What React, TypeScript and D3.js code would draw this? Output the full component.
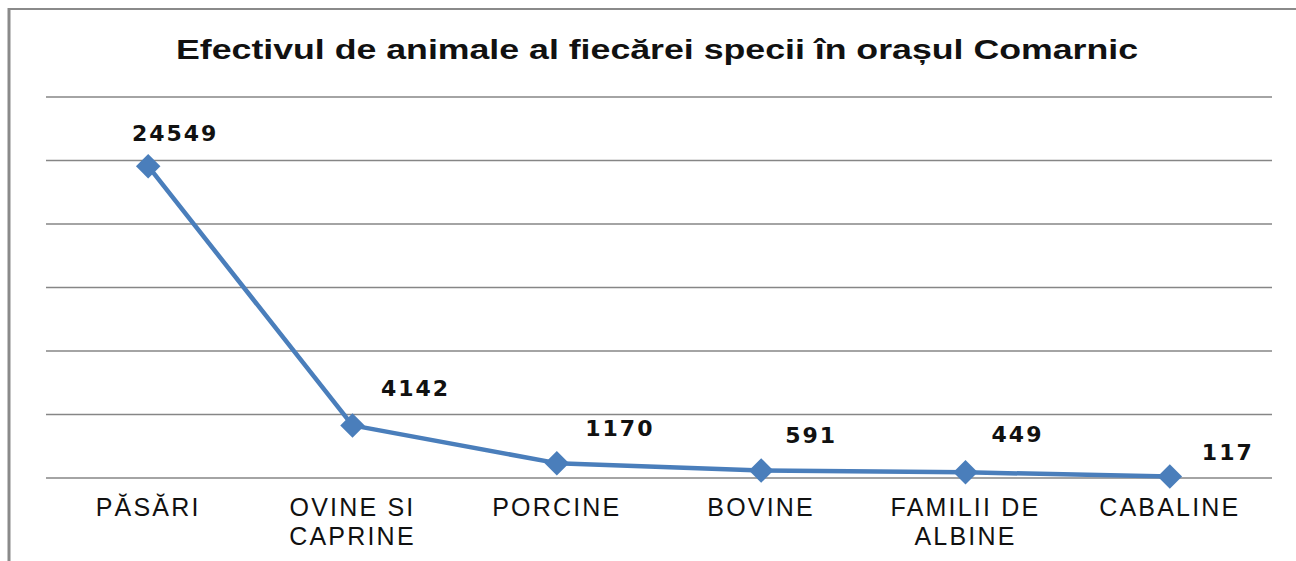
import * as d3 from "d3";

const categories: string[][] = [
  ["PĂSĂRI"],
  ["OVINE SI", "CAPRINE"],
  ["PORCINE"],
  ["BOVINE"],
  ["FAMILII DE", "ALBINE"],
  ["CABALINE"],
];
const values = [24549, 4142, 1170, 591, 449, 117];
const yTicks = [0, 5000, 10000, 15000, 20000, 25000, 30000];
const title = "Efectivul de animale al fiecărei specii în orașul Comarnic";

// label offsets from each point (layout, not data)
const labelOffsets: [number, number][] = [
  [27, -25],
  [63, -29],
  [63, -27],
  [50, -27],
  [52, -30],
  [58, -17],
];

const W = 1296;
const H = 561;
const plot = { left: 46, right: 1272, top: 97, bottom: 478 };

export default function App() {
  const keys = categories.map((c) => c.join(" "));
  const x = d3.scaleBand<string>().domain(keys).range([plot.left, plot.right]);
  const y = d3.scaleLinear().domain([0, 30000]).range([plot.bottom, plot.top]);
  const cx = (i: number) => x(keys[i])! + x.bandwidth() / 2;

  const line = d3
    .line<number>()
    .x((_, i) => cx(i))
    .y((d) => y(d));
  const diamond = d3.symbol().type(d3.symbolSquare).size(300)();

  return (
    <svg
      width={W}
      height={H}
      style={{ position: "absolute", left: 0, top: 0, background: "#fff" }}
    >
      {/* frame */}
      <line x1={9} x2={9} y1={8} y2={H} stroke="#8a8a8a" strokeWidth={3} />
      <line x1={8} x2={W} y1={9} y2={9} stroke="#8a8a8a" strokeWidth={2} />

      <text
        x={(176 + 1138) / 2}
        y={59}
        textAnchor="middle"
        fontFamily="'Liberation Sans', Arial, sans-serif"
        fontWeight="bold"
        fontSize={27}
        textLength={962}
        lengthAdjust="spacingAndGlyphs"
        fill="#111"
      >
        {title}
      </text>

      {/* gridlines */}
      {yTicks.map((t) => (
        <line
          key={t}
          x1={plot.left}
          x2={plot.right}
          y1={y(t)}
          y2={y(t)}
          stroke="#868686"
          strokeWidth={1.5}
        />
      ))}

      {/* category labels */}
      {categories.map((lines, i) => (
        <text
          key={i}
          textAnchor="middle"
          fontFamily="'Liberation Sans', Arial, sans-serif"
          fontSize={25}
          letterSpacing={2.2}
          fill="#111"
        >
          {lines.map((l, j) => (
            <tspan key={j} x={cx(i)} y={516 + j * 29}>
              {l}
            </tspan>
          ))}
        </text>
      ))}

      <path
        d={line(values) ?? ""}
        fill="none"
        stroke="#4a7ebb"
        strokeWidth={4.5}
        strokeLinejoin="round"
      />
      {values.map((v, i) => (
        <path
          key={i}
          d={diamond ?? ""}
          transform={`translate(${cx(i)},${y(v)}) rotate(45)`}
          fill="#4a7ebb"
        />
      ))}

      {values.map((v, i) => (
        <text
          key={i}
          x={cx(i) + labelOffsets[i][0]}
          y={y(v) + labelOffsets[i][1]}
          textAnchor="middle"
          fontFamily="'DejaVu Sans', Verdana, sans-serif"
          fontWeight="bold"
          fontSize={22}
          letterSpacing={2}
          fill="#111"
        >
          {v}
        </text>
      ))}
    </svg>
  );
}
